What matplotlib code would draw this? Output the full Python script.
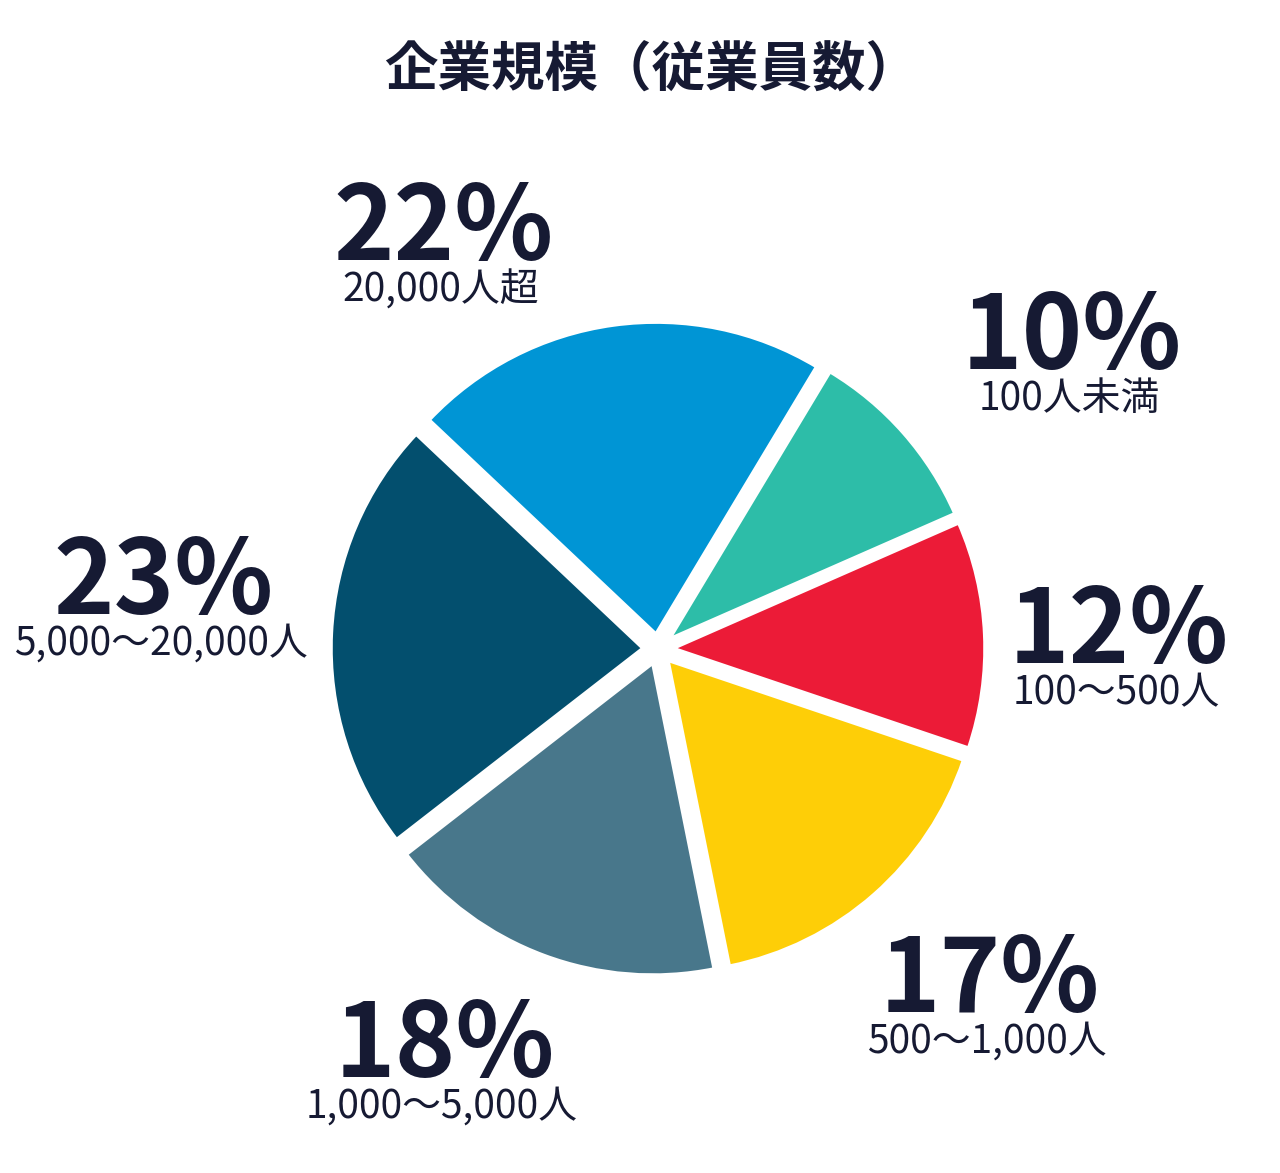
import matplotlib
matplotlib.use("Agg")
import matplotlib.pyplot as plt

plt.rcParams['font.family'] = ['Noto Sans CJK JP', 'DejaVu Sans']

title = "企業規模（従業員数）"
categories = ["100人未満", "100～500人", "500～1,000人", "1,000～5,000人",
              "5,000～20,000人", "20,000人超"]
values = [10, 12, 17, 18, 23, 22]
colors = ["#2DBDA8", "#EC1B37", "#FECE07", "#48778B", "#034F6E", "#0095D5"]
# label anchor positions (pixel coords, top-left origin) for percent text centers
label_pos = [(1072, 332), (1119, 626), (990, 975), (445, 1040), (164, 577), (444, 223)]

W, H = 1280, 1173
fig = plt.figure(figsize=(W / 100, H / 100), dpi=100)
ax = fig.add_axes([0, 0, 1, 1])
ax.set_xlim(0, W)
ax.set_ylim(0, H)
ax.set_aspect('equal')
ax.axis('off')

text_color = "#161A33"

ax.pie(values, colors=colors, startangle=59, counterclock=False,
       center=(658, H - 649), radius=312, explode=[15] * len(values),
       wedgeprops=dict(edgecolor="white", linewidth=2.5))
ax.set_xlim(0, W)
ax.set_ylim(0, H)

ax.text(652, H - 71, title, ha='center', va='center', fontsize=38.5,
        fontweight='bold', color=text_color)

for v, cat, (x, y) in zip(values, categories, label_pos):
    ax.text(x, H - (y + 7), f"{v}%", ha='center', va='center', fontsize=74,
            fontweight='bold', color=text_color)
    ax.text(x - 3, H - (y + 67), cat, ha='center', va='center', fontsize=28,
            color=text_color)

fig.savefig("out.png", dpi=100, facecolor="white")
